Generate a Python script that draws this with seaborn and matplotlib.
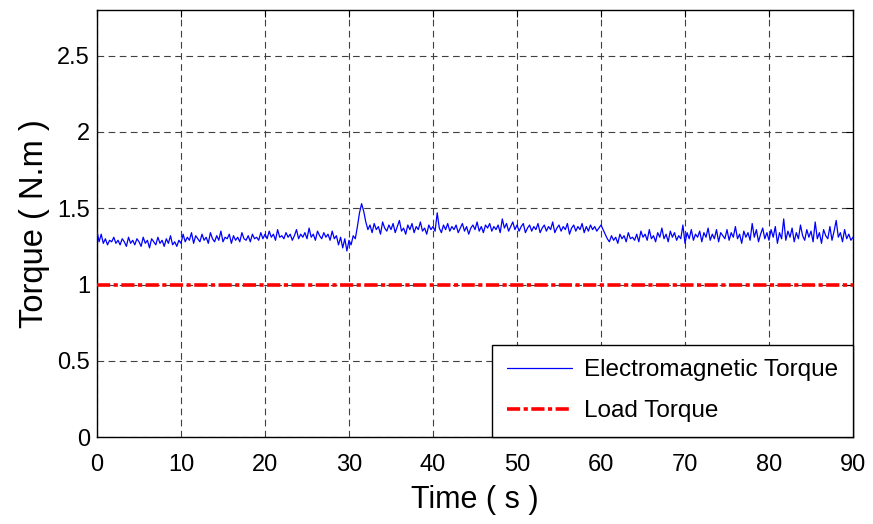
import numpy as np
import pandas as pd
import matplotlib
matplotlib.use("Agg")
import matplotlib.pyplot as plt
import seaborn as sns

# ---- data ----
time_step = 0.25
em_torque = [
    1.35, 1.28, 1.33, 1.27, 1.30, 1.26, 1.29, 1.28, 1.31, 1.27,
    1.29, 1.26, 1.30, 1.28, 1.25, 1.31, 1.27, 1.29, 1.26, 1.30,
    1.28, 1.25, 1.31, 1.27, 1.29, 1.24, 1.30, 1.28, 1.26, 1.31,
    1.27, 1.29, 1.25, 1.30, 1.27, 1.32, 1.26, 1.28, 1.25, 1.29,
    1.27, 1.33, 1.28, 1.31, 1.29, 1.34, 1.27, 1.32, 1.30, 1.28,
    1.33, 1.29, 1.31, 1.27, 1.34, 1.30, 1.28, 1.32, 1.29, 1.35,
    1.28, 1.31, 1.30, 1.33, 1.27, 1.32, 1.29, 1.31, 1.28, 1.34,
    1.30, 1.29, 1.32, 1.28, 1.33, 1.30, 1.31, 1.29, 1.34, 1.30,
    1.33, 1.30, 1.35, 1.31, 1.33, 1.29, 1.36, 1.31, 1.32, 1.30,
    1.34, 1.31, 1.33, 1.29, 1.32, 1.36, 1.30, 1.33, 1.31, 1.34,
    1.30, 1.37, 1.31, 1.33, 1.29, 1.35, 1.32, 1.30, 1.34, 1.31,
    1.33, 1.29, 1.35, 1.30, 1.32, 1.26, 1.31, 1.24, 1.30, 1.22,
    1.29, 1.26, 1.32, 1.30, 1.38, 1.47, 1.53, 1.48, 1.41, 1.36,
    1.39, 1.34, 1.40, 1.36, 1.38, 1.33, 1.41, 1.37, 1.35, 1.39,
    1.36, 1.40, 1.34, 1.38, 1.42, 1.35, 1.37, 1.33, 1.39, 1.36,
    1.40, 1.34, 1.38, 1.36, 1.41, 1.35, 1.37, 1.33, 1.39, 1.36,
    1.38, 1.35, 1.47, 1.37, 1.34, 1.39, 1.36, 1.40, 1.35, 1.38,
    1.36, 1.39, 1.34, 1.37, 1.40, 1.35, 1.38, 1.33, 1.37, 1.39,
    1.36, 1.41, 1.35, 1.38, 1.34, 1.39, 1.37, 1.40, 1.35, 1.38,
    1.36, 1.39, 1.34, 1.43, 1.37, 1.40, 1.35, 1.38, 1.41, 1.36,
    1.39, 1.35, 1.38, 1.40, 1.34, 1.37, 1.39, 1.35, 1.38, 1.36,
    1.40, 1.34, 1.37, 1.39, 1.35, 1.38, 1.36, 1.41, 1.34, 1.37,
    1.39, 1.35, 1.38, 1.36, 1.40, 1.33, 1.37, 1.39, 1.35, 1.38,
    1.36, 1.40, 1.34, 1.38, 1.35, 1.39, 1.36, 1.38, 1.35, 1.37,
    1.39, 1.36, 1.33, 1.30, 1.28, 1.32, 1.29, 1.31, 1.27, 1.33,
    1.30, 1.32, 1.28, 1.34, 1.30, 1.31, 1.29, 1.33, 1.28, 1.35,
    1.31, 1.33, 1.29, 1.36, 1.30, 1.32, 1.28, 1.34, 1.31, 1.37,
    1.30, 1.33, 1.28, 1.35, 1.31, 1.34, 1.29, 1.32, 1.30, 1.39,
    1.27, 1.34, 1.30, 1.36, 1.29, 1.33, 1.31, 1.35, 1.28, 1.34,
    1.31, 1.37, 1.29, 1.33, 1.30, 1.36, 1.28, 1.34, 1.32, 1.30,
    1.36, 1.29, 1.34, 1.31, 1.38, 1.30, 1.33, 1.27, 1.35, 1.31,
    1.34, 1.29, 1.40, 1.31, 1.36, 1.28, 1.33, 1.37, 1.30, 1.34,
    1.29, 1.36, 1.31, 1.38, 1.27, 1.34, 1.30, 1.43, 1.29, 1.35,
    1.31, 1.37, 1.28, 1.34, 1.30, 1.39, 1.32, 1.29, 1.36, 1.31,
    1.35, 1.28, 1.41, 1.30, 1.34, 1.27, 1.36, 1.32, 1.30, 1.38,
    1.29, 1.35, 1.42, 1.31, 1.34, 1.28, 1.36, 1.30, 1.33, 1.29,
    1.31,
]
time_s = [i * time_step for i in range(len(em_torque))]
load_time = [0, 90]
load_torque = [1.0, 1.0]

x_ticks = [0, 10, 20, 30, 40, 50, 60, 70, 80, 90]
y_ticks = [0, 0.5, 1, 1.5, 2, 2.5]
y_tick_labels = ["0", "0.5", "1", "1.5", "2", "2.5"]

# ---- style ----
sns.set_style("white")
plt.rcParams["font.family"] = ["Liberation Sans", "DejaVu Sans"]
plt.rcParams["lines.scale_dashes"] = False
for k in ["text.color", "axes.labelcolor", "xtick.color", "ytick.color"]:
    plt.rcParams[k] = "black"

fig = plt.figure(figsize=(8.73, 5.24), dpi=100)
ax = fig.add_axes([97 / 873, 1 - 437 / 524, (853 - 97) / 873, (437 - 10) / 524])

df_em = pd.DataFrame({"t": time_s, "T": em_torque})
df_load = pd.DataFrame({"t": load_time, "T": load_torque})

sns.lineplot(data=df_em, x="t", y="T", ax=ax, color="#0000ff", lw=0.9,
             label="Electromagnetic Torque", zorder=3)
sns.lineplot(data=df_load, x="t", y="T", ax=ax, color="#ff0000", lw=2.6,
             linestyle=(0, (9.5, 2.5, 3.0, 2.5)), label="Load Torque", zorder=3)

ax.set_xlim(0, 90)
ax.set_ylim(0, 2.8)
ax.set_xticks(x_ticks)
ax.set_yticks(y_ticks)
ax.set_yticklabels(y_tick_labels)

ax.grid(True, color="#404040", lw=0.8, linestyle=(0, (4.8, 3.2)))
ax.set_axisbelow(True)
for s in ax.spines.values():
    s.set_visible(True)
    s.set_color("black")
    s.set_linewidth(1.0)

ax.tick_params(direction="in", length=5, width=0.8, top=True, right=True,
               labelsize=17, colors="black")
ax.tick_params(axis="x", pad=12)
ax.tick_params(axis="y", pad=5)

ax.set_xlabel("Time ( s )", fontsize=22, labelpad=7, color="black")
ax.set_ylabel("Torque ( N.m )", fontsize=23.5, labelpad=5, color="black")

leg = ax.legend(loc="lower right", bbox_to_anchor=(1, 0), borderaxespad=0,
                fancybox=False, framealpha=1, edgecolor="black",
                fontsize=17.5, handlelength=2.7, handletextpad=0.5,
                labelspacing=0.78, borderpad=0.6)
leg.get_frame().set_linewidth(1.0)
for t in leg.get_texts():
    t.set_color("black")

fig.savefig("out.png", dpi=100)
